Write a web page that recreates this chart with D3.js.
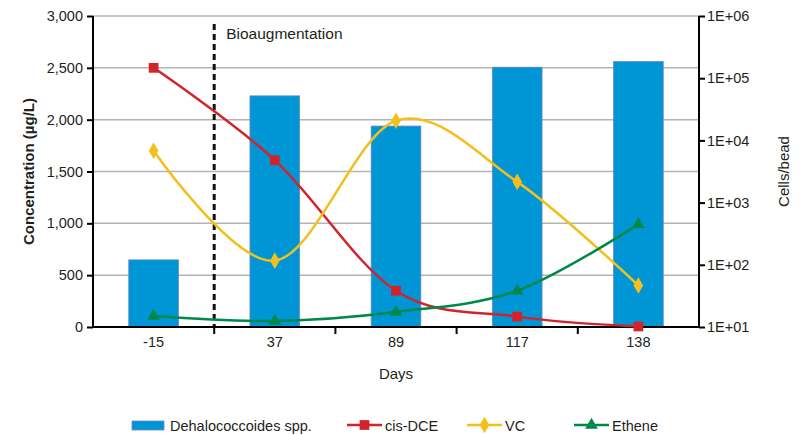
<!DOCTYPE html>
<html>
<head>
<meta charset="utf-8">
<script src="https://cdn.jsdelivr.net/npm/d3@7"></script>
<style>
  body { margin: 0; background: #fff; }
  svg text { font-family: "Liberation Sans", Arial, sans-serif; fill: #231f20; }
</style>
</head>
<body>
<div id="chart"></div>
<script>
// 数据
const days = ["-15", "37", "89", "117", "138"];
const dhcCells = [120, 52000, 17000, 150000, 185000];   // Dehalococcoides spp. (cells/bead)
const cisDCE = [2500, 1610, 350, 100, 5];
const vc = [1700, 640, 1990, 1400, 400];
const ethene = [105, 58, 145, 350, 990];
const concTicks = [0, 500, 1000, 1500, 2000, 2500, 3000];
const cellTicks = [1e1, 1e2, 1e3, 1e4, 1e5, 1e6];

const width = 804, height = 435;
const margin = { top: 16, right: 105, bottom: 108, left: 93 };
const x0 = margin.left, x1 = width - margin.right;
const y0 = height - margin.bottom, y1 = margin.top;

const svg = d3.select("#chart").append("svg")
  .attr("width", width)
  .attr("height", height);

const x = d3.scaleBand().domain(days).range([x0, x1]).paddingInner(0.59).paddingOuter(0.295);
const xb = d3.scaleBand().domain(days).range([x0, x1]);
const yL = d3.scaleLinear().domain([0, 3000]).range([y0, y1]);
const yR = d3.scaleLog().domain([10, 1e6]).range([y0, y1]);

// 网格线
svg.append("g")
  .selectAll("line")
  .data(concTicks.filter(d => d > 0))
  .join("line")
  .attr("x1", x0).attr("x2", x1)
  .attr("y1", d => yL(d)).attr("y2", d => yL(d))
  .attr("stroke", "#b4b4b4")
  .attr("stroke-width", 1.5);

// 柱状图
svg.append("g")
  .selectAll("rect")
  .data(days.map((d, i) => ({ day: d, v: dhcCells[i] })))
  .join("rect")
  .attr("x", d => x(d.day))
  .attr("width", x.bandwidth())
  .attr("y", d => yR(d.v))
  .attr("height", d => y0 - yR(d.v))
  .attr("fill", "#0096d6")
  .attr("stroke", "#6b86c4")
  .attr("stroke-width", 0.8);

// 虚线
const splitX = xb("37");
svg.append("line")
  .attr("x1", splitX).attr("x2", splitX)
  .attr("y1", 24).attr("y2", y0)
  .attr("stroke", "#111")
  .attr("stroke-width", 3)
  .attr("stroke-dasharray", "6,4");

svg.append("text")
  .attr("x", splitX + 12)
  .attr("y", 39)
  .attr("font-size", 15.5)
  .text("Bioaugmentation");

// 坐标轴
const axisL = svg.append("g")
  .attr("transform", `translate(${x0},0)`)
  .call(d3.axisLeft(yL).tickValues(concTicks).tickFormat(d3.format(",")).tickSize(6).tickPadding(4));
const axisR = svg.append("g")
  .attr("transform", `translate(${x1},0)`)
  .call(d3.axisRight(yR).tickValues(cellTicks)
    .tickFormat(d => "1E+" + String(Math.round(Math.log10(d))).padStart(2, "0"))
    .tickSize(6).tickPadding(2));
const axisB = svg.append("g")
  .attr("transform", `translate(0,${y0})`)
  .call(d3.axisBottom(xb).tickSize(0).tickPadding(10));

[axisL, axisR, axisB].forEach(g => {
  g.select(".domain").attr("stroke", "#000").attr("stroke-width", 2);
  g.selectAll(".tick line").attr("stroke", "#000").attr("stroke-width", 2);
  g.selectAll(".tick text").attr("font-size", 14.5)
    .attr("font-family", "\"Liberation Sans\", Arial, sans-serif").attr("fill", "#231f20");
});
axisL.select(".domain").attr("d", `M0,${y1}V${y0}`);
axisR.select(".domain").attr("d", `M0,${y1}V${y0}`);
axisB.select(".domain").attr("d", `M${x0},0H${x1}`);

// x 轴分隔刻度
svg.append("g")
  .selectAll("line")
  .data(days.slice(1))
  .join("line")
  .attr("x1", d => xb(d)).attr("x2", d => xb(d))
  .attr("y1", y0).attr("y2", y0 + 7)
  .attr("stroke", "#000")
  .attr("stroke-width", 2);

// 轴标题
svg.append("text")
  .attr("transform", `translate(34,${(y0 + y1) / 2}) rotate(-90)`)
  .attr("text-anchor", "middle")
  .attr("font-size", 15)
  .attr("font-weight", "bold")
  .text("Concentration (µg/L)");

svg.append("text")
  .attr("transform", `translate(789,${(y0 + y1) / 2}) rotate(-90)`)
  .attr("text-anchor", "middle")
  .attr("font-size", 15)
  .text("Cells/bead");

svg.append("text")
  .attr("x", xb("89") + xb.bandwidth() / 2)
  .attr("y", 379)
  .attr("text-anchor", "middle")
  .attr("font-size", 15)
  .text("Days");

// 折线
const series = [
  { name: "cis-DCE", values: cisDCE, color: "#d2232a", symbol: d3.symbolSquare, size: 95 },
  { name: "VC", values: vc, color: "#f2bf1c", symbol: d3.symbolDiamond, size: 80 },
  { name: "Ethene", values: ethene, color: "#00884a", symbol: d3.symbolTriangle, size: 70 }
];

const line = d3.line()
  .x((d, i) => xb(days[i]) + xb.bandwidth() / 2)
  .y(d => yL(d))
  .curve(d3.curveCatmullRom.alpha(0));

series.forEach(s => {
  svg.append("path")
    .datum(s.values)
    .attr("fill", "none")
    .attr("stroke", s.color)
    .attr("stroke-width", 2.5)
    .attr("d", line);

  svg.append("g")
    .selectAll("path")
    .data(s.values)
    .join("path")
    .attr("transform", (d, i) => `translate(${xb(days[i]) + xb.bandwidth() / 2},${yL(d)})`)
    .attr("d", d3.symbol(s.symbol, s.size))
    .attr("fill", s.color);
});

// 图例
const legendY = 425;
const legend = svg.append("g");
legend.append("rect")
  .attr("x", 132).attr("y", legendY - 4)
  .attr("width", 32).attr("height", 9)
  .attr("fill", "#0096d6")
  .attr("stroke", "#6b86c4")
  .attr("stroke-width", 0.8);
legend.append("text")
  .attr("x", 170).attr("y", legendY + 5.5)
  .attr("font-size", 14.5)
  .text("Dehalococcoides spp.");

const legendX = [347, 467, 574];
series.forEach((s, i) => {
  const lx = legendX[i];
  legend.append("line")
    .attr("x1", lx).attr("x2", lx + 35)
    .attr("y1", legendY).attr("y2", legendY)
    .attr("stroke", s.color)
    .attr("stroke-width", 2.5);
  legend.append("path")
    .attr("transform", `translate(${lx + 17.5},${legendY})`)
    .attr("d", d3.symbol(s.symbol, s.size))
    .attr("fill", s.color);
  legend.append("text")
    .attr("x", lx + 38).attr("y", legendY + 5.5)
    .attr("font-size", 14.5)
    .text(s.name);
});
</script>
</body>
</html>
